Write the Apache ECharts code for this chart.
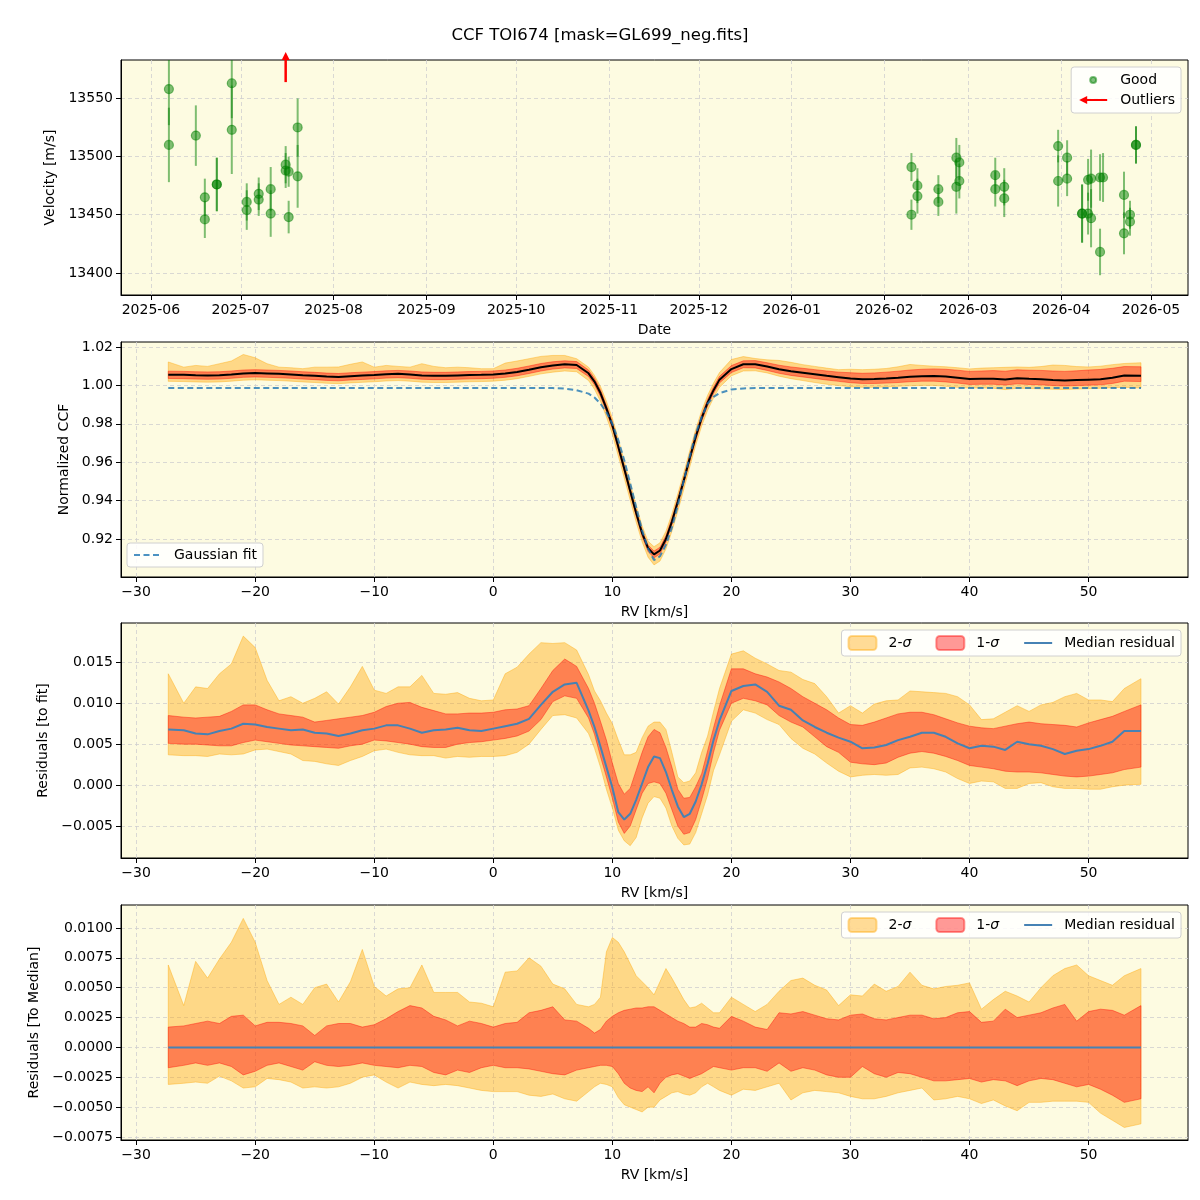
<!DOCTYPE html>
<html>
<head>
<meta charset="utf-8">
<script src="https://cdn.jsdelivr.net/npm/echarts@6/dist/echarts.min.js"></script>
<style>
  html, body { margin: 0; padding: 0; background: #fff; }
  #main { width: 1200px; height: 1200px; }
</style>
</head>
<body>
<div id="main"></div>
<script>
// ---- panel 1: RV time series ----
const goodDates = ['2025-06-07','2025-06-07','2025-06-16','2025-06-19','2025-06-19','2025-06-23','2025-06-23','2025-06-28','2025-06-28','2025-07-03','2025-07-03','2025-07-07','2025-07-07','2025-07-11','2025-07-11','2025-07-16','2025-07-16','2025-07-17','2025-07-17','2025-07-20','2025-07-20',
  '2026-02-10','2026-02-10','2026-02-12','2026-02-12','2026-02-19','2026-02-19','2026-02-25','2026-02-25','2026-02-26','2026-02-26','2026-03-10','2026-03-10','2026-03-13','2026-03-13','2026-03-31','2026-03-31','2026-04-03','2026-04-03','2026-04-08','2026-04-08','2026-04-10','2026-04-10','2026-04-11','2026-04-11','2026-04-14','2026-04-14','2026-04-15','2026-04-22','2026-04-22','2026-04-24','2026-04-24','2026-04-26','2026-04-26']
const goodVel = [13558,13510,13518,13465,13446,13476,13476,13563,13523,13461,13454,13468,13463,13472,13451,13493,13488,13487,13448,13525,13483,
  13491,13450,13475,13466,13472,13461,13499,13474,13495,13479,13484,13472,13474,13464,13509,13479,13499,13481,13451,13451,13480,13451,13481,13447,13482,13418,13482,13467,13434,13450,13444,13510,13510]
const goodErr = [31,32,26,16,16,23,23,30,38,16,17,14,14,19,20,16,15,13,14,25,27,
  12,13,15,15,12,12,17,23,15,15,15,15,16,16,14,22,15,15,25,25,18,18,25,25,20,20,21,20,18,12,12,16,16]
const outlierDates = ['2025-07-16']
const outlierVel = [13564]
const monthTicks = ['2025-06-01','2025-07-01','2025-08-01','2025-09-01','2025-10-01','2025-11-01','2025-12-01','2026-01-01','2026-02-01','2026-03-01','2026-04-01','2026-05-01']
const velTicks = [13400, 13450, 13500, 13550]

// ---- shared RV grid (km/s) ----
const rv = [-27.3,-26,-25,-24,-23,-22,-21,-20,-19,-18,-17,-16,-15,-14,-13,-12,-11,-10,-9,-8,-7,-6,-5,-4,-3,-2,-1,0,1,2,3,4,5,6,7,8,
  8.5,9,9.5,10,10.5,11,11.5,12,12.5,13,13.5,14,14.5,15,15.5,16,16.5,17,17.5,18,18.5,
  19,20,21,22,23,24,25,26,27,28,29,30,31,32,33,34,35,36,37,38,39,40,41,42,43,44,45,46,47,48,49,50,51,52,53,54.4]
const rvTicks = [-30, -20, -10, 0, 10, 20, 30, 40, 50]

// ---- panel 2: normalized CCF ----
const ccfMed = [1.0056,1.0055,1.0053,1.0052,1.0053,1.0057,1.0062,1.0064,1.0062,1.0060,1.0057,1.0053,1.0050,1.0046,1.0044,1.0048,1.0051,1.0054,1.0058,1.0060,1.0057,1.0052,1.0050,1.0050,1.0052,1.0054,1.0055,1.0057,1.0062,1.0070,1.0082,1.0095,1.0104,1.0110,1.0106,1.0063,
  1.0020,0.9960,0.9880,0.9792,0.9680,0.9566,0.9450,0.9335,0.9230,0.9152,0.9120,0.9140,0.9200,0.9290,0.9395,0.9505,0.9620,0.9731,0.9830,0.9910,0.9975,
  1.0030,1.0085,1.0110,1.0110,1.0098,1.0084,1.0074,1.0066,1.0058,1.0050,1.0043,1.0036,1.0032,1.0033,1.0036,1.0040,1.0045,1.0048,1.0049,1.0046,1.0040,1.0033,1.0034,1.0035,1.0031,1.0037,1.0034,1.0032,1.0028,1.0026,1.0028,1.0030,1.0032,1.0040,1.0052,1.0050]
const ccfHi1 = [1.0074,1.0073,1.0071,1.0070,1.0071,1.0075,1.0080,1.0082,1.0080,1.0078,1.0075,1.0071,1.0068,1.0064,1.0062,1.0066,1.0069,1.0072,1.0076,1.0078,1.0075,1.0070,1.0068,1.0068,1.0070,1.0072,1.0073,1.0075,1.0080,1.0089,1.0101,1.0114,1.0123,1.0128,1.0124,1.0080,
  1.0037,0.9977,0.9897,0.9809,0.9697,0.9582,0.9466,0.9351,0.9246,0.9168,0.9137,0.9157,0.9217,0.9307,0.9412,0.9522,0.9637,0.9748,0.9847,0.9927,0.9992,
  1.0047,1.0103,1.0128,1.0129,1.0118,1.0105,1.0096,1.0089,1.0082,1.0075,1.0069,1.0066,1.0063,1.0065,1.0069,1.0074,1.0080,1.0084,1.0086,1.0084,1.0079,1.0073,1.0075,1.0077,1.0074,1.0081,1.0079,1.0078,1.0075,1.0073,1.0076,1.0080,1.0083,1.0089,1.0098,1.0097]
const ccfLo1 = [1.0036,1.0035,1.0033,1.0032,1.0033,1.0037,1.0042,1.0044,1.0042,1.0040,1.0037,1.0033,1.0030,1.0026,1.0024,1.0028,1.0031,1.0034,1.0038,1.0040,1.0037,1.0032,1.0030,1.0030,1.0032,1.0034,1.0035,1.0037,1.0042,1.0050,1.0062,1.0075,1.0085,1.0091,1.0088,1.0046,
  1.0003,0.9943,0.9863,0.9775,0.9663,0.9550,0.9434,0.9319,0.9213,0.9135,0.9102,0.9122,0.9183,0.9273,0.9378,0.9488,0.9603,0.9714,0.9813,0.9893,0.9958,
  1.0013,1.0067,1.0092,1.0091,1.0078,1.0063,1.0052,1.0044,1.0036,1.0028,1.0021,1.0014,1.0010,1.0010,1.0012,1.0015,1.0019,1.0022,1.0022,1.0018,1.0012,1.0005,1.0006,1.0006,1.0002,1.0008,1.0005,1.0003,0.9999,0.9997,0.9999,1.0001,1.0003,1.0010,1.0022,1.0020]
const ccfHi2 = [1.0122,1.0095,1.0104,1.0099,1.0113,1.0127,1.0161,1.0144,1.0113,1.0095,1.0092,1.0087,1.0095,1.0095,1.0096,1.0110,1.0122,1.0095,1.0104,1.0099,1.0095,1.0113,1.0099,1.0092,1.0095,1.0092,1.0087,1.0087,1.0116,1.0127,1.0139,1.0151,1.0156,1.0156,1.0139,1.0095,
  1.0052,0.9995,0.9918,0.9830,0.9720,0.9606,0.9490,0.9375,0.9268,0.9188,0.9160,0.9180,0.9240,0.9330,0.9435,0.9545,0.9660,0.9770,0.9868,0.9948,1.0012,
  1.0067,1.0135,1.0150,1.0140,1.0133,1.0130,1.0120,1.0108,1.0099,1.0090,1.0082,1.0084,1.0082,1.0084,1.0088,1.0097,1.0109,1.0104,1.0100,1.0097,1.0092,1.0086,1.0090,1.0092,1.0094,1.0096,1.0094,1.0098,1.0106,1.0104,1.0098,1.0096,1.0100,1.0108,1.0114,1.0118]
const ccfLo2 = [1.0021,1.0020,1.0018,1.0017,1.0018,1.0022,1.0027,1.0029,1.0027,1.0025,1.0022,1.0018,1.0015,1.0011,1.0009,1.0013,1.0016,1.0019,1.0023,1.0025,1.0022,1.0017,1.0015,1.0015,1.0017,1.0019,1.0020,1.0022,1.0027,1.0035,1.0047,1.0060,1.0069,1.0075,1.0071,1.0025,
  0.9980,0.9918,0.9836,0.9746,0.9632,0.9518,0.9402,0.9288,0.9185,0.9105,0.9065,0.9085,0.9148,0.9240,0.9345,0.9458,0.9575,0.9688,0.9788,0.9870,0.9935,
  0.9990,1.0050,1.0075,1.0076,1.0065,1.0048,1.0035,1.0025,1.0015,1.0006,0.9999,0.9993,0.9990,0.9990,0.9992,0.9995,0.9998,1.0000,1.0000,0.9995,0.9990,0.9986,0.9987,0.9985,0.9978,0.9985,0.9984,0.9982,0.9980,0.9979,0.9981,0.9983,0.9985,0.9988,0.9990,0.9986]
const gaussFit = [0.9986,0.9986,0.9986,0.9986,0.9986,0.9986,0.9986,0.9986,0.9986,0.9986,0.9986,0.9986,0.9986,0.9986,0.9986,0.9986,0.9986,0.9986,0.9986,0.9986,0.9986,0.9986,0.9986,0.9986,0.9986,0.9986,0.9986,0.9986,0.9986,0.9986,0.9986,0.9986,0.9986,0.9983,0.9975,0.9957,
  0.9937,0.9905,0.9860,0.9800,0.9715,0.9610,0.9490,0.9366,0.9245,0.9150,0.9090,0.9110,0.9170,0.9260,0.9375,0.9505,0.9630,0.9748,0.9835,0.9905,0.9940,
  0.9960,0.9979,0.9984,0.9986,0.9986,0.9986,0.9986,0.9986,0.9986,0.9986,0.9986,0.9986,0.9986,0.9986,0.9986,0.9986,0.9986,0.9986,0.9986,0.9986,0.9986,0.9986,0.9986,0.9986,0.9986,0.9986,0.9986,0.9986,0.9986,0.9986,0.9986,0.9986,0.9986,0.9986,0.9986,0.9986]
const ccfYTicks = [0.92, 0.94, 0.96, 0.98, 1.00, 1.02]

// ---- panel 3: residuals to fit ----
const fitMed = [0.0068,0.0067,0.0063,0.0062,0.0066,0.0069,0.0075,0.0074,0.0071,0.0069,0.0067,0.0068,0.0064,0.0063,0.0060,0.0063,0.0067,0.0069,0.0073,0.0073,0.0069,0.0064,0.0067,0.0068,0.0070,0.0067,0.0066,0.0069,0.0072,0.0075,0.0081,0.0098,0.0114,0.0123,0.0125,0.0091,
  0.0071,0.0047,0.0022,-0.0003,-0.0033,-0.0042,-0.0035,-0.0018,0.0002,0.0022,0.0035,0.0033,0.0016,-0.0006,-0.0026,-0.0039,-0.0035,-0.0020,0.0001,0.0026,0.0055,
  0.0079,0.0115,0.0121,0.0123,0.0114,0.0097,0.0092,0.0079,0.0071,0.0064,0.0058,0.0053,0.0045,0.0046,0.0049,0.0055,0.0059,0.0064,0.0064,0.0059,0.0051,0.0045,0.0048,0.0047,0.0043,0.0053,0.0050,0.0048,0.0044,0.0038,0.0042,0.0044,0.0048,0.0053,0.0066,0.0066]
const fitHi1 = [0.0085,0.0083,0.0082,0.0083,0.0084,0.0090,0.0098,0.0098,0.0092,0.0087,0.0085,0.0083,0.0077,0.0079,0.0081,0.0083,0.0085,0.0089,0.0096,0.0100,0.0101,0.0095,0.0091,0.0087,0.0087,0.0088,0.0088,0.0089,0.0092,0.0093,0.0097,0.0118,0.0140,0.0154,0.0145,0.0118,
  0.0100,0.0078,0.0055,0.0027,0.0002,-0.0011,-0.0004,0.0018,0.0040,0.0059,0.0068,0.0064,0.0046,0.0022,-0.0005,-0.0016,-0.0015,-0.0002,0.0014,0.0042,0.0070,
  0.0097,0.0142,0.0142,0.0136,0.0132,0.0126,0.0118,0.0108,0.0100,0.0092,0.0082,0.0074,0.0073,0.0077,0.0082,0.0087,0.0089,0.0089,0.0086,0.0081,0.0076,0.0072,0.0070,0.0069,0.0072,0.0075,0.0077,0.0075,0.0074,0.0073,0.0071,0.0076,0.0080,0.0084,0.0090,0.0098]
const fitLo1 = [0.0051,0.0050,0.0050,0.0049,0.0048,0.0048,0.0052,0.0055,0.0053,0.0051,0.0049,0.0048,0.0047,0.0046,0.0045,0.0048,0.0050,0.0055,0.0054,0.0052,0.0050,0.0047,0.0046,0.0046,0.0050,0.0052,0.0053,0.0055,0.0057,0.0060,0.0066,0.0080,0.0102,0.0109,0.0106,0.0082,
  0.0062,0.0035,0.0010,-0.0016,-0.0045,-0.0059,-0.0050,-0.0030,-0.0010,0.0002,0.0004,0.0002,-0.0010,-0.0030,-0.0050,-0.0060,-0.0058,-0.0042,-0.0018,0.0008,0.0040,
  0.0067,0.0100,0.0106,0.0103,0.0098,0.0085,0.0077,0.0071,0.0059,0.0047,0.0040,0.0028,0.0026,0.0025,0.0027,0.0034,0.0039,0.0041,0.0039,0.0035,0.0030,0.0024,0.0022,0.0020,0.0017,0.0016,0.0016,0.0015,0.0013,0.0011,0.0010,0.0011,0.0013,0.0015,0.0019,0.0022]
const fitHi2 = [0.0136,0.0100,0.0120,0.0118,0.0136,0.0148,0.0182,0.0168,0.0128,0.0103,0.0108,0.0100,0.0106,0.0114,0.0099,0.0120,0.0145,0.0116,0.0112,0.0120,0.0120,0.0134,0.0112,0.0111,0.0113,0.0106,0.0103,0.0104,0.0136,0.0144,0.0160,0.0174,0.0173,0.0174,0.0165,0.0135,
  0.0115,0.0103,0.0088,0.0075,0.0055,0.0037,0.0037,0.0040,0.0058,0.0072,0.0077,0.0077,0.0068,0.0040,0.0010,0.0003,0.0005,0.0015,0.0040,0.0060,0.0090,
  0.0118,0.0160,0.0164,0.0155,0.0148,0.0140,0.0138,0.0129,0.0124,0.0108,0.0088,0.0097,0.0088,0.0099,0.0103,0.0104,0.0115,0.0114,0.0113,0.0112,0.0108,0.0098,0.0080,0.0081,0.0089,0.0097,0.0090,0.0098,0.0101,0.0108,0.0112,0.0104,0.0104,0.0102,0.0118,0.0130]
const fitLo2 = [0.0037,0.0036,0.0036,0.0035,0.0038,0.0037,0.0038,0.0043,0.0044,0.0041,0.0038,0.0030,0.0029,0.0026,0.0024,0.0030,0.0035,0.0042,0.0044,0.0040,0.0037,0.0036,0.0036,0.0033,0.0035,0.0034,0.0035,0.0035,0.0036,0.0040,0.0050,0.0068,0.0085,0.0086,0.0082,0.0063,
  0.0045,0.0022,-0.0005,-0.0028,-0.0055,-0.0068,-0.0074,-0.0064,-0.0040,-0.0022,-0.0014,-0.0016,-0.0028,-0.0050,-0.0065,-0.0073,-0.0072,-0.0058,-0.0035,-0.0012,0.0018,
  0.0037,0.0078,0.0092,0.0088,0.0080,0.0074,0.0057,0.0045,0.0038,0.0027,0.0017,0.0010,0.0012,0.0013,0.0012,0.0013,0.0021,0.0022,0.0020,0.0016,0.0008,0.0002,0.0005,0.0004,-0.0004,-0.0004,0.0002,0.0003,-0.0002,-0.0004,-0.0004,-0.0005,-0.0005,-0.0002,0.0000,0.0001]
const fitYTicks = [-0.005, 0, 0.005, 0.010, 0.015]

// ---- panel 4: residuals to median ----
const medRv = [-27.3, 54.4]
const medLine = [0, 0]
const medHi1 = [0.0017,0.0018,0.0020,0.0022,0.0020,0.0026,0.0027,0.0018,0.0021,0.0021,0.0020,0.0018,0.0010,0.0018,0.0020,0.0020,0.0017,0.0019,0.0024,0.0030,0.0035,0.0033,0.0026,0.0023,0.0018,0.0022,0.0020,0.0017,0.0020,0.0021,0.0029,0.0031,0.0034,0.0023,0.0022,0.0016,
  0.0012,0.0015,0.0022,0.0026,0.0029,0.0031,0.0032,0.0033,0.0033,0.0034,0.0034,0.0031,0.0028,0.0025,0.0022,0.0020,0.0017,0.0017,0.0020,0.0019,0.0017,
  0.0016,0.0026,0.0022,0.0017,0.0015,0.0029,0.0028,0.0030,0.0027,0.0024,0.0023,0.0027,0.0028,0.0024,0.0023,0.0025,0.0027,0.0027,0.0024,0.0025,0.0029,0.0030,0.0021,0.0022,0.0032,0.0025,0.0027,0.0029,0.0033,0.0036,0.0022,0.0030,0.0032,0.0031,0.0027,0.0035]
const medLo1 = [-0.0017,-0.0015,-0.0013,-0.0015,-0.0013,-0.0016,-0.0023,-0.0020,-0.0015,-0.0013,-0.0016,-0.0019,-0.0012,-0.0015,-0.0016,-0.0015,-0.0013,-0.0015,-0.0016,-0.0017,-0.0015,-0.0016,-0.0021,-0.0023,-0.0019,-0.0021,-0.0017,-0.0015,-0.0017,-0.0017,-0.0018,-0.0020,-0.0022,-0.0023,-0.0019,-0.0017,
  -0.0016,-0.0015,-0.0015,-0.0016,-0.0022,-0.0030,-0.0034,-0.0036,-0.0037,-0.0033,-0.0038,-0.0030,-0.0025,-0.0023,-0.0022,-0.0024,-0.0026,-0.0024,-0.0022,-0.0019,-0.0016,
  -0.0017,-0.0019,-0.0017,-0.0017,-0.0020,-0.0013,-0.0020,-0.0017,-0.0019,-0.0023,-0.0025,-0.0025,-0.0016,-0.0022,-0.0025,-0.0021,-0.0022,-0.0025,-0.0028,-0.0028,-0.0027,-0.0026,-0.0029,-0.0027,-0.0028,-0.0032,-0.0028,-0.0026,-0.0027,-0.0030,-0.0033,-0.0031,-0.0035,-0.0040,-0.0046,-0.0043]
const medHi2 = [0.0069,0.0035,0.0072,0.0058,0.0074,0.0088,0.0108,0.0088,0.0056,0.0036,0.0042,0.0036,0.0050,0.0053,0.0038,0.0055,0.0082,0.0051,0.0043,0.0049,0.0050,0.0069,0.0046,0.0046,0.0046,0.0038,0.0037,0.0034,0.0063,0.0064,0.0075,0.0068,0.0053,0.0049,0.0036,0.0034,
  0.0036,0.0042,0.0080,0.0092,0.0088,0.0080,0.0070,0.0060,0.0055,0.0050,0.0044,0.0055,0.0066,0.0058,0.0049,0.0040,0.0033,0.0034,0.0037,0.0033,0.0029,
  0.0029,0.0042,0.0036,0.0030,0.0036,0.0047,0.0056,0.0058,0.0052,0.0048,0.0035,0.0044,0.0043,0.0053,0.0047,0.0051,0.0063,0.0052,0.0049,0.0051,0.0052,0.0054,0.0032,0.0040,0.0047,0.0043,0.0038,0.0050,0.0060,0.0066,0.0069,0.0060,0.0056,0.0052,0.0060,0.0066]
const medLo2 = [-0.0031,-0.0030,-0.0029,-0.0030,-0.0024,-0.0028,-0.0034,-0.0033,-0.0026,-0.0027,-0.0029,-0.0034,-0.0033,-0.0034,-0.0033,-0.0030,-0.0025,-0.0023,-0.0029,-0.0034,-0.0029,-0.0031,-0.0032,-0.0031,-0.0032,-0.0034,-0.0036,-0.0037,-0.0037,-0.0037,-0.0040,-0.0041,-0.0039,-0.0043,-0.0045,-0.0037,
  -0.0033,-0.0030,-0.0031,-0.0033,-0.0042,-0.0048,-0.0050,-0.0052,-0.0054,-0.0050,-0.0050,-0.0044,-0.0041,-0.0038,-0.0037,-0.0039,-0.0040,-0.0038,-0.0033,-0.0030,-0.0033,
  -0.0036,-0.0040,-0.0035,-0.0036,-0.0033,-0.0030,-0.0044,-0.0038,-0.0036,-0.0037,-0.0038,-0.0041,-0.0043,-0.0043,-0.0041,-0.0038,-0.0036,-0.0034,-0.0044,-0.0043,-0.0041,-0.0043,-0.0047,-0.0044,-0.0049,-0.0053,-0.0046,-0.0046,-0.0045,-0.0045,-0.0045,-0.0046,-0.0055,-0.0061,-0.0067,-0.0064]
const medYTicks = [-0.0075, -0.005, -0.0025, 0, 0.0025, 0.005, 0.0075, 0.01]

// ---- styling ----
const FONT = 'DejaVu Sans'
const BG = '#FDFBE1'
const ORANGE = 'rgba(255,165,0,0.4)'
const RED = 'rgba(255,0,0,0.4)'
const GREEN = 'rgba(0,128,0,0.5)'
const MEDBLUE = '#4682b4'
const txt = { fontFamily: FONT, fontSize: 14, color: '#000' }
const legendTxt = Object.assign({ padding: [0, 0, 0, 7] }, txt)
const ts = s => echarts.number.parseDate(s).getTime()
const minus = s => String(s).replace('-', '\u2212')

const chart = echarts.init(document.getElementById('main'), null, { renderer: 'canvas' })

const gridBox = top => ({ left: 121, top, width: 1067, height: 235, show: true, backgroundColor: BG, borderColor: '#000', borderWidth: 1 })

// dates go on a plain value axis (ms timestamps) so that month ticks can be given explicitly
function axis (gridIndex, min, max, ticks, fmt, name, nameGap) {
  return {
    type: 'value', gridIndex, min, max, name, nameLocation: 'middle', nameGap,
    nameTextStyle: txt,
    axisLine: { show: true, onZero: false, lineStyle: { color: '#000', width: 1 } },
    axisTick: { show: true, length: 5, lineStyle: { color: '#000' }, customValues: ticks },
    axisLabel: Object.assign({ customValues: ticks, formatter: fmt, margin: 8, hideOverlap: false }, txt),
    splitLine: { show: true, lineStyle: { color: '#cfcfcf', type: [4, 3], width: 0.8 } }
  }
}

function band (name, idx, lo, hi, color) {
  return {
    type: 'custom', name, xAxisIndex: idx, yAxisIndex: idx, silent: true, z: 1,
    data: [[rv[0], lo[0]]],
    encode: { x: 0, y: 1 },
    itemStyle: { color, borderColor: color, borderWidth: 1 },
    renderItem (params, api) {
      const pts = []
      for (let i = 0; i < rv.length; i++) pts.push(api.coord([rv[i], hi[i]]))
      for (let i = rv.length - 1; i >= 0; i--) pts.push(api.coord([rv[i], lo[i]]))
      return { type: 'polygon', shape: { points: pts }, style: { fill: color, stroke: color, lineWidth: 1 } }
    }
  }
}

function line (name, idx, xs, ys, color, width, dash) {
  return {
    type: 'line', name, xAxisIndex: idx, yAxisIndex: idx, z: 3,
    data: xs.map((x, i) => [x, ys[i]]),
    symbol: 'none', silent: true,
    lineStyle: { color, width, type: dash || 'solid' },
    itemStyle: { color }
  }
}

const rvFmt = v => minus(v)
const noMarker = { opacity: 0 }
// icons drawn in a 30x10 box (the leading moves fix the box size)
const GOOD_ICON = 'path://M0,0 M30,10 M12,5 A3,3 0 1 1 18,5 A3,3 0 1 1 12,5 Z'
const OUT_ICON = 'path://M0,0 M30,10 M1,5 L9,1 L9,4 L29,4 L29,6 L9,6 L9,9 Z'
const legendBase = { backgroundColor: 'rgba(255,255,255,0.85)', borderColor: '#d0d0d0', borderWidth: 1, borderRadius: 3, textStyle: legendTxt }
const sigmaLegend = top => Object.assign({}, legendBase, {
  right: 19, top, orient: 'horizontal', itemWidth: 28, itemHeight: 14, itemGap: 24, padding: [5, 6],
  data: ['2-σ', '1-σ', { name: 'Median residual', itemStyle: noMarker }],
  formatter: n => n.startsWith('Median') ? n : n.replace('σ', '{i|σ}'),
  textStyle: Object.assign({ rich: { i: { fontFamily: FONT, fontSize: 14, fontStyle: 'italic' } } }, legendTxt)
})

const option = {
  animation: false,
  backgroundColor: '#fff',
  title: { text: 'CCF TOI674 [mask=GL699_neg.fits]', left: 'center', top: 22, textStyle: { fontFamily: FONT, fontSize: 16.5, fontWeight: 'normal', color: '#000' } },
  grid: [gridBox(60), gridBox(342), gridBox(623), gridBox(905)],
  xAxis: [
    axis(0, ts('2025-05-22'), ts('2026-05-13 09:00'), monthTicks.map(ts), v => {
      const d = new Date(v)
      return d.getFullYear() + '-' + String(d.getMonth() + 1).padStart(2, '0')
    }, 'Date', 28),
    axis(1, -31.27, 58.35, rvTicks, rvFmt, 'RV [km/s]', 28),
    axis(2, -31.27, 58.35, rvTicks, rvFmt, 'RV [km/s]', 28),
    axis(3, -31.27, 58.35, rvTicks, rvFmt, 'RV [km/s]', 28)
  ],
  yAxis: [
    axis(0, 13381, 13583, velTicks, v => String(v), 'Velocity [m/s]', 62),
    axis(1, 0.9002, 1.0226, ccfYTicks, v => v.toFixed(2), 'Normalized CCF', 48),
    axis(2, -0.0089, 0.0198, fitYTicks, v => minus(v.toFixed(3)), 'Residuals [to fit]', 68),
    axis(3, -0.00775, 0.01192, medYTicks, v => minus(v.toFixed(4)), 'Residuals [To Median]', 77)
  ],
  legend: [
    Object.assign({}, legendBase, {
      right: 19, top: 67, orient: 'vertical', itemWidth: 30, itemHeight: 10, itemGap: 6, padding: [6, 6],
      data: [{ name: 'Good', icon: GOOD_ICON }, { name: 'Outliers', icon: OUT_ICON }]
    }),
    Object.assign({}, legendBase, {
      left: 127, top: 543, itemWidth: 28, itemHeight: 14, padding: [5, 6],
      data: [{ name: 'Gaussian fit', itemStyle: noMarker }]
    }),
    sigmaLegend(630),
    sigmaLegend(912)
  ],
  series: [
    // panel 1
    {
      type: 'custom', name: 'errbars', xAxisIndex: 0, yAxisIndex: 0, clip: true, silent: true, z: 2,
      data: goodDates.map((d, i) => [ts(d), goodVel[i], goodErr[i]]),
      encode: { x: 0, y: 1 },
      renderItem (params, api) {
        const x = api.value(0), y = api.value(1), e = api.value(2)
        const a = api.coord([x, y - e]), b = api.coord([x, y + e])
        return { type: 'line', shape: { x1: a[0], y1: a[1], x2: b[0], y2: b[1] }, style: { stroke: GREEN, lineWidth: 2 } }
      }
    },
    {
      type: 'scatter', name: 'Good', xAxisIndex: 0, yAxisIndex: 0, z: 3,
      data: goodDates.map((d, i) => [ts(d), goodVel[i]]),
      symbolSize: 9,
      itemStyle: { color: GREEN, borderColor: GREEN, borderWidth: 1.2, opacity: 1 }
    },
    {
      type: 'custom', name: 'Outliers', xAxisIndex: 0, yAxisIndex: 0, clip: false, silent: true, z: 4,
      data: outlierDates.map((d, i) => [ts(d), outlierVel[i]]),
      encode: { x: 0, y: 1 },
      itemStyle: { color: 'red' },
      renderItem (params, api) {
        const p = api.coord([api.value(0), api.value(1)])
        const top = params.coordSys.y - 8
        return {
          type: 'group',
          children: [
            { type: 'line', shape: { x1: p[0], y1: p[1], x2: p[0], y2: top + 6 }, style: { stroke: 'red', lineWidth: 2.5 } },
            { type: 'polygon', shape: { points: [[p[0] - 4, top + 8], [p[0] + 4, top + 8], [p[0], top]] }, style: { fill: 'red' } }
          ]
        }
      }
    },
    // panel 2
    band('2-σ', 1, ccfLo2, ccfHi2, ORANGE),
    band('1-σ', 1, ccfLo1, ccfHi1, RED),
    line('Median CCF', 1, rv, ccfMed, '#000', 2),
    line('Gaussian fit', 1, rv, gaussFit, 'rgba(31,119,180,0.8)', 2, [6, 3.5]),
    // panel 3
    band('2-σ', 2, fitLo2, fitHi2, ORANGE),
    band('1-σ', 2, fitLo1, fitHi1, RED),
    line('Median residual', 2, rv, fitMed, MEDBLUE, 2),
    // panel 4
    band('2-σ', 3, medLo2, medHi2, ORANGE),
    band('1-σ', 3, medLo1, medHi1, RED),
    line('Median residual', 3, medRv, medLine, MEDBLUE, 2)
  ]
}

chart.setOption(option)
</script>
</body>
</html>
